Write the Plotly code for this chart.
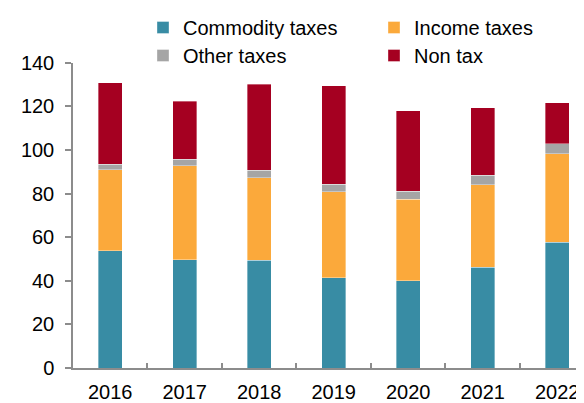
import plotly.graph_objects as go

years = ["2016", "2017", "2018", "2019", "2020", "2021", "2022"]
commodity = [53.7, 49.7, 49.4, 41.3, 40.1, 46.3, 57.8]
income = [37.3, 43.0, 37.8, 39.6, 37.3, 37.8, 40.5]
other = [2.4, 3.0, 3.5, 3.5, 3.8, 4.4, 4.6]
nontax = [37.5, 26.6, 39.6, 45.1, 36.9, 30.9, 18.8]

series = [
    ("Commodity taxes", commodity, "#388CA4", "legend"),
    ("Income taxes", income, "#FBA93B", "legend2"),
    ("Other taxes", other, "#A5A5A5", "legend3"),
    ("Non tax", nontax, "#A50021", "legend4"),
]

# page body has an 8px margin; figure sized to fill the rest of the window
OFF = 8
W, H = 584 - OFF, 403 - OFF
ML, MR, MT, MB = 73 - OFF, 0, 5, 35
plot_top_px = 62 - OFF
PW = W - ML - MR
PH = H - MT - MB


def px_x(px):
    return (px - OFF - ML) / PW


def px_y(py):
    return (H - MB - (py - OFF)) / PH


fig = go.Figure()
for name, vals, col, lg in series:
    fig.add_trace(go.Bar(
        x=years, y=vals, name=name, legend=lg,
        marker=dict(color=col, line=dict(color="rgba(255,255,255,0.6)", width=0.6)),
        width=0.32,
    ))

FONT = "Liberation Sans, Arial, sans-serif"
FS = 20
col1, col2 = 143, 374
row1, row2 = 27, 55.5


def leg(xp, yp):
    return dict(x=px_x(xp), xanchor="left", y=px_y(yp), yanchor="middle",
                orientation="v", font=dict(size=FS, family=FONT),
                bgcolor="rgba(0,0,0,0)", borderwidth=0)


fig.update_layout(
    barmode="stack",
    width=W, height=H,
    margin=dict(l=ML, r=MR, t=MT, b=MB),
    paper_bgcolor="white", plot_bgcolor="white",
    font=dict(family=FONT, size=FS, color="#000000"),
    showlegend=True,
    legend=leg(col1, row1),
    legend2=leg(col2, row1),
    legend3=leg(col1, row2),
    legend4=leg(col2, row2),
    xaxis=dict(
        type="category", range=[-0.5, 6.36],
        showline=True, linecolor="#8C8C8C", linewidth=1.5,
        ticks="inside", ticklen=5, tickcolor="#8C8C8C", tickwidth=1.5,
        tickson="boundaries", showgrid=False, zeroline=False,
        tickfont=dict(size=FS), ticklabelstandoff=5, automargin=False,
    ),
    yaxis=dict(
        range=[0, 140], dtick=20,
        domain=[0, (H - MB - plot_top_px) / PH],
        showline=True, linecolor="#8C8C8C", linewidth=1.5,
        ticks="outside", ticklen=6, tickcolor="#8C8C8C", tickwidth=1.5,
        showgrid=False, zeroline=False,
        tickfont=dict(size=FS), ticklabelstandoff=7, automargin=False,
    ),
)

fig.write_html("out.html")
